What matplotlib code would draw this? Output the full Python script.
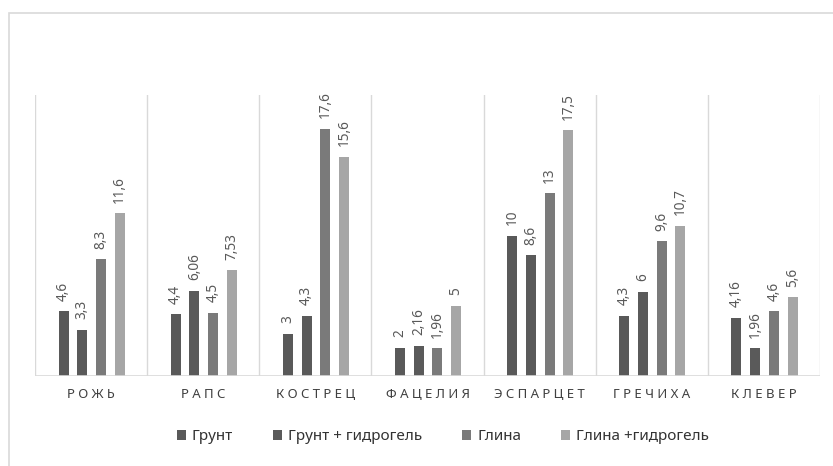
import matplotlib
matplotlib.use("Agg")
import matplotlib.pyplot as plt
from matplotlib.patches import Rectangle, Patch
import numpy as np

plt.rcParams['font.family'] = ['Noto Sans', 'DejaVu Sans']

crops = ["РОЖЬ", "РАПС", "КОСТРЕЦ", "ФАЦЕЛИЯ", "ЭСПАРЦЕТ", "ГРЕЧИХА", "КЛЕВЕР"]
series_names = ["Грунт", "Грунт + гидрогель", "Глина", "Глина +гидрогель"]
grunt = [4.6, 4.4, 3, 2, 10, 4.3, 4.16]
grunt_gel = [3.3, 6.06, 4.3, 2.16, 8.6, 6, 1.96]
glina = [8.3, 4.5, 17.6, 1.96, 13, 9.6, 4.6]
glina_gel = [11.6, 7.53, 15.6, 5, 17.5, 10.7, 5.6]

series = [grunt, grunt_gel, glina, glina_gel]
colors = ["#595959", "#5a5a5a", "#7a7a7a", "#a6a6a6"]

W, H = 833, 466
fig = plt.figure(figsize=(W / 100, H / 100), dpi=100)

# outer chart frame
fig.patches.append(Rectangle((9 / W, -0.1), 1.2, 1 - 13 / H + 0.1,
                             transform=fig.transFigure, fill=False,
                             edgecolor="#d9d9d9", lw=1.2))

ax = fig.add_axes([35 / W, 1 - 376 / H, (820 - 35) / W, (376 - 95) / H])
x = np.arange(len(crops))
step = 0.167
width = 0.089
offsets = (np.arange(4) - 1.5) * step + 0.005

def fmt(v):
    s = f"{v:g}"
    return s.replace(".", ",")

for vals, off, col in zip(series, offsets, colors):
    bars = ax.bar(x + off, vals, width, color=col, zorder=3)
    for b, v in zip(bars, vals):
        ax.annotate(fmt(v), (b.get_x() + b.get_width() / 2, v),
                    xytext=(0, 7.5), textcoords="offset points",
                    rotation=90, ha="center", va="bottom",
                    fontsize=9.8, color="#595959")

ax.set_xlim(-0.5, len(crops) - 0.5)
ax.set_ylim(0, 20)
for b in np.arange(-0.5, len(crops) + 0.5, 1):
    ax.axvline(b, color="#d9d9d9", lw=1, zorder=1)
ax.axhline(0, color="#d9d9d9", lw=1.2, zorder=4)
for s in ax.spines.values():
    s.set_visible(False)
ax.set_yticks([])
ax.set_xticks(x)
ax.set_xticklabels([" ".join(c) for c in crops], fontsize=9.5,
                   color="#404040")
ax.tick_params(axis="x", length=0, pad=9)

handles = [Patch(facecolor=c, edgecolor="none") for c in colors]
fig.legend(handles, series_names, loc="center", ncol=4,
           bbox_to_anchor=(443 / W, 1 - 437 / H), frameon=False,
           fontsize=11, handlelength=0.6, handleheight=0.6,
           handletextpad=0.4, columnspacing=2.6, labelcolor="#333333")

fig.savefig("out.png", dpi=100)
